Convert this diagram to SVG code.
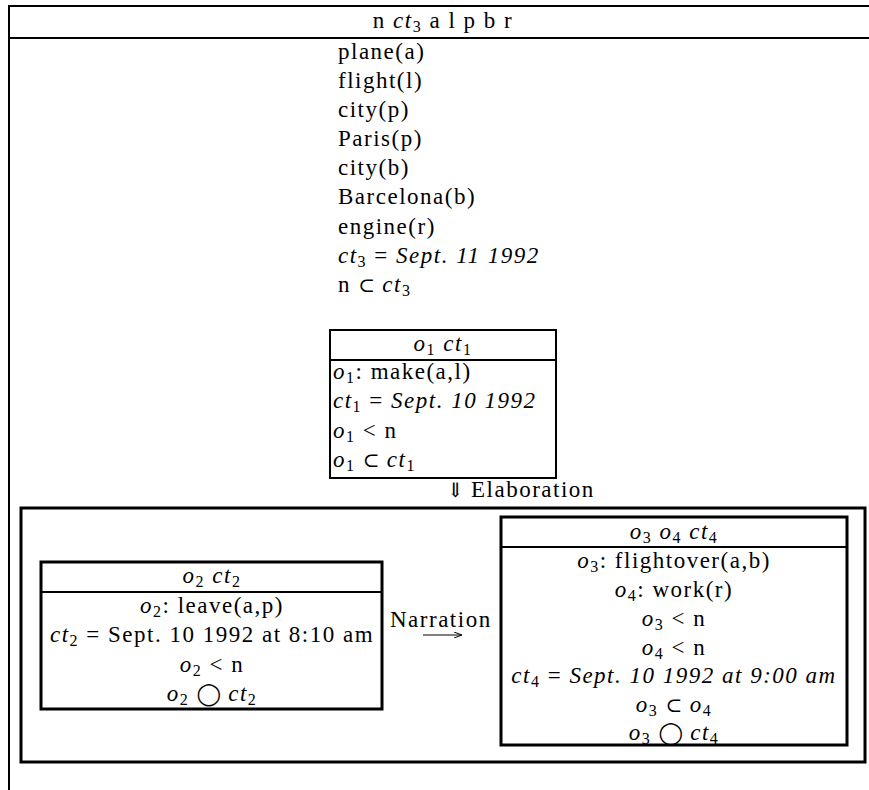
<svg xmlns="http://www.w3.org/2000/svg" width="869" height="790" viewBox="0 0 869 790">
<style>
.t{font-family:"Liberation Serif",serif;font-size:23px;letter-spacing:1.5px;fill:#000}
.i{font-style:italic}
.s{font-size:16px;font-style:normal}
.y{font-family:"DejaVu Serif",serif;font-style:normal;font-size:20px;letter-spacing:0}
.c{font-family:"DejaVu Sans",sans-serif;font-style:normal;font-size:22px;letter-spacing:0}
.m{text-anchor:middle}
.b2{fill:none;stroke:#000;stroke-width:2}
.b3{fill:none;stroke:#000;stroke-width:3}
.ln{stroke:#000;stroke-width:2}
</style>
<defs>
<marker id="ah" markerWidth="8" markerHeight="6" refX="7" refY="3" orient="auto" markerUnits="userSpaceOnUse">
<path d="M0,0 L8,3 L0,6" fill="none" stroke="#000" stroke-width="1"/>
</marker>
</defs>
<g id="context">
<line class="ln" x1="8" y1="6" x2="869" y2="6"/>
<line class="ln" x1="8" y1="38" x2="869" y2="38"/>
<line class="ln" x1="9" y1="5" x2="9" y2="790"/>
<text class="t m" x="443" y="28">n <tspan class="i">ct</tspan><tspan class="s" dy="4">3</tspan><tspan dy="-4"> a l p b r</tspan></text>
<text class="t" x="338" y="59">plane(a)</text>
<text class="t" x="338" y="88">flight(l)</text>
<text class="t" x="338" y="117">city(p)</text>
<text class="t" x="338" y="146">Paris(p)</text>
<text class="t" x="338" y="175">city(b)</text>
<text class="t" x="338" y="204">Barcelona(b)</text>
<text class="t" x="338" y="234">engine(r)</text>
<text class="t" x="338" y="263"><tspan class="i">ct</tspan><tspan class="s" dy="4">3</tspan><tspan dy="-4"> = </tspan><tspan class="i">Sept. 11 1992</tspan></text>
<text class="t" x="338" y="292">n <tspan class="y">⊂</tspan> <tspan class="i">ct</tspan><tspan class="s" dy="4">3</tspan></text>
</g>
<g id="o1">
<rect class="b2" x="330" y="330" width="226" height="148"/>
<line class="ln" x1="330" y1="360" x2="556" y2="360"/>
<text class="t m" x="443" y="351"><tspan class="i">o</tspan><tspan class="s" dy="4">1</tspan><tspan dy="-4"> </tspan><tspan class="i">ct</tspan><tspan class="s" dy="4">1</tspan></text>
<text class="t" x="333" y="379"><tspan class="i">o</tspan><tspan class="s" dy="4">1</tspan><tspan dy="-4">: make(a,l)</tspan></text>
<text class="t" x="333" y="408"><tspan class="i">ct</tspan><tspan class="s" dy="4">1</tspan><tspan dy="-4"> = </tspan><tspan class="i">Sept. 10 1992</tspan></text>
<text class="t" x="333" y="438"><tspan class="i">o</tspan><tspan class="s" dy="4">1</tspan><tspan dy="-4"> &lt; n</tspan></text>
<text class="t" x="333" y="467"><tspan class="i">o</tspan><tspan class="s" dy="4">1</tspan><tspan dy="-4"> </tspan><tspan class="y">⊂</tspan> <tspan class="i">ct</tspan><tspan class="s" dy="4">1</tspan></text>
</g>
<g id="elaboration-box">
<rect class="b3" x="21" y="508" width="844" height="254"/>
</g>
<g id="o2">
<rect class="b3" x="41" y="562" width="341" height="147"/>
<line class="ln" x1="41" y1="592" x2="382" y2="592"/>
<text class="t m" x="212" y="583"><tspan class="i">o</tspan><tspan class="s" dy="4">2</tspan><tspan dy="-4"> </tspan><tspan class="i">ct</tspan><tspan class="s" dy="4">2</tspan></text>
<text class="t m" x="212" y="613"><tspan class="i">o</tspan><tspan class="s" dy="4">2</tspan><tspan dy="-4">: leave(a,p)</tspan></text>
<text class="t m" x="212" y="642"><tspan class="i">ct</tspan><tspan class="s" dy="4">2</tspan><tspan dy="-4"> = Sept. 10 1992 at 8:10 am</tspan></text>
<text class="t m" x="212" y="672"><tspan class="i">o</tspan><tspan class="s" dy="4">2</tspan><tspan dy="-4"> &lt; n</tspan></text>
<text class="t m" x="212" y="701"><tspan class="i">o</tspan><tspan class="s" dy="4">2</tspan><tspan dy="-4"> </tspan><tspan class="c">◯</tspan> <tspan class="i">ct</tspan><tspan class="s" dy="4">2</tspan></text>
</g>
<g id="o3o4">
<rect class="b3" x="501" y="517" width="346" height="228"/>
<line class="ln" x1="501" y1="547" x2="847" y2="547"/>
<text class="t m" x="674" y="539"><tspan class="i">o</tspan><tspan class="s" dy="4">3</tspan><tspan dy="-4"> </tspan><tspan class="i">o</tspan><tspan class="s" dy="4">4</tspan><tspan dy="-4"> </tspan><tspan class="i">ct</tspan><tspan class="s" dy="4">4</tspan></text>
<text class="t m" x="674" y="568"><tspan class="i">o</tspan><tspan class="s" dy="4">3</tspan><tspan dy="-4">: flightover(a,b)</tspan></text>
<text class="t m" x="674" y="597"><tspan class="i">o</tspan><tspan class="s" dy="4">4</tspan><tspan dy="-4">: work(r)</tspan></text>
<text class="t m" x="674" y="626"><tspan class="i">o</tspan><tspan class="s" dy="4">3</tspan><tspan dy="-4"> &lt; n</tspan></text>
<text class="t m" x="674" y="655"><tspan class="i">o</tspan><tspan class="s" dy="4">4</tspan><tspan dy="-4"> &lt; n</tspan></text>
<text class="t m" x="674" y="683"><tspan class="i">ct</tspan><tspan class="s" dy="4">4</tspan><tspan dy="-4"> = </tspan><tspan class="i">Sept. 10 1992 at 9:00 am</tspan></text>
<text class="t m" x="674" y="712"><tspan class="i">o</tspan><tspan class="s" dy="4">3</tspan><tspan dy="-4"> </tspan><tspan class="y">⊂</tspan> <tspan class="i">o</tspan><tspan class="s" dy="4">4</tspan></text>
<text class="t m" x="674" y="740"><tspan class="i">o</tspan><tspan class="s" dy="4">3</tspan><tspan dy="-4"> </tspan><tspan class="c">◯</tspan> <tspan class="i">ct</tspan><tspan class="s" dy="4">4</tspan></text>
</g>
<g id="connectors">
<text class="t" x="447" y="497"><tspan class="y">⇓</tspan> Elaboration</text>
<text class="t" x="390" y="627">Narration</text>
<line x1="423" y1="635" x2="461" y2="635" stroke="#000" stroke-width="1" marker-end="url(#ah)"/>
</g>
</svg>
